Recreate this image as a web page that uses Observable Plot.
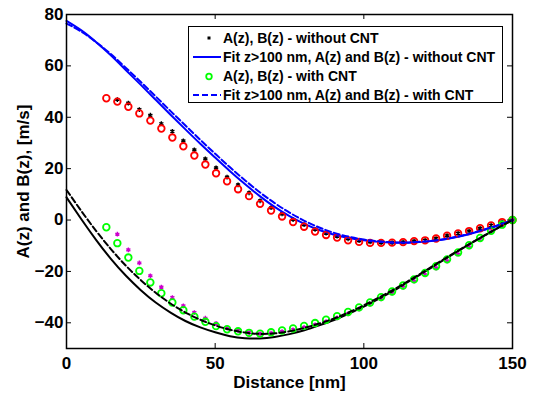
<!DOCTYPE html>
<html><head><meta charset="utf-8">
<script src="https://cdn.jsdelivr.net/npm/d3@7"></script>
<script src="https://cdn.jsdelivr.net/npm/@observablehq/plot@0.6"></script>
<style>body{margin:0;background:#fff} #chart{width:542px;height:395px}</style>
</head><body><div id="chart"></div>
<script>
// Measured positions (nm)
const zPts = [13.4,17.1,20.8,24.5,28.2,31.9,35.6,39.3,43.0,46.7,50.3,54.0,57.7,61.4,65.1,68.8,72.5,76.2,79.9,83.6,87.3,91.0,94.7,98.4,102.1,105.8,109.5,113.2,116.9,120.6,124.3,128.0,131.7,135.4,139.1,142.8,146.5,150];
// A(z) upper branch
const aNoCnt = [null,46.9,45.5,43.0,40.8,37.5,34.5,30.8,27.3,23.8,20.3,16.7,13.7,10.6,7.5,4.8,2.4,0.2,-1.8,-3.6,-5.1,-6.3,-7.3,-8.0,-8.5,-8.8,-8.8,-8.6,-8.2,-7.9,-7.2,-6.1,-5.2,-4.3,-3.2,-2.1,-0.8,0];
const aWithCnt = [47.4,46.1,44.1,41.5,38.7,35.6,32.1,28.7,25.1,21.6,18.2,15.1,12.0,9.3,6.3,3.7,1.4,-0.8,-2.6,-4.5,-5.8,-6.8,-7.9,-8.5,-8.9,-8.9,-8.8,-8.6,-8.2,-7.9,-7.2,-6.1,-5.2,-4.3,-3.2,-2.1,-0.8,0];
// B(z) lower branch
const bNoCnt = [null,-5.5,-11.6,-16.7,-21.7,-26.1,-30.2,-33.4,-36.0,-38.2,-40.2,-42.0,-43.0,-43.8,-44.3,-44.0,-43.4,-42.7,-41.8,-40.8,-39.5,-38.1,-36.5,-34.7,-32.8,-30.7,-28.5,-26.2,-23.8,-21.3,-18.7,-16.0,-13.3,-10.5,-7.6,-4.7,-2.3,0];
const bWithCnt = [-2.8,-9.0,-14.6,-19.8,-24.3,-28.5,-32.1,-35.1,-37.6,-39.6,-41.3,-42.5,-43.3,-43.9,-44.2,-43.7,-43.0,-42.2,-41.2,-40.1,-38.8,-37.4,-35.8,-34.0,-32.1,-30.0,-27.8,-25.5,-23.1,-20.6,-18.0,-15.3,-12.6,-9.8,-7.0,-4.2,-1.8,0];

// Fit curves
const fitX = [0,5,10,15,20,25,30,35,40,45,50,55,60,65,70,75,80,85,90,95,100,105,110,115,120,125,130,135,140,145,150];
const fitANoCnt = [77.5,73.8,69.2,64.0,58.3,52.6,46.8,41.0,35.3,29.7,24.3,19.0,14.0,9.3,5.1,1.5,-1.5,-3.9,-5.7,-7.0,-7.9,-8.5,-8.8,-8.8,-8.5,-7.9,-6.9,-5.6,-4.0,-2.1,0];
const fitAWithCnt = [76.5,73.3,69.2,64.5,59.2,53.7,48.1,42.4,36.8,31.2,25.8,20.5,15.5,10.8,6.6,2.9,-0.3,-2.9,-5.0,-6.5,-7.6,-8.3,-8.7,-8.7,-8.4,-7.8,-6.8,-5.5,-3.9,-2.1,0];
const fitBNoCnt = [8.8,0.3,-7.8,-15.2,-21.7,-27.3,-32.1,-36.0,-39.3,-41.8,-43.7,-45.2,-46.0,-46.1,-45.5,-44.4,-42.9,-41.0,-38.9,-36.4,-33.7,-30.7,-27.5,-24.0,-20.5,-16.9,-13.3,-9.8,-6.4,-3.1,0];
const fitBWithCnt = [11.7,3.5,-4.3,-11.4,-17.8,-23.4,-28.3,-32.5,-36.0,-38.8,-41.0,-42.7,-43.8,-44.3,-44.1,-43.3,-42.0,-40.3,-38.3,-35.9,-33.2,-30.2,-27.1,-23.7,-20.2,-16.6,-13.1,-9.7,-6.4,-3.1,0];

const xTicks = [0,50,100,150];
const yTicks = [-40,-20,0,20,40,60,80];
const legendLabels = ["A(z), B(z) - without CNT","Fit z>100 nm, A(z) and B(z) - without CNT","A(z), B(z) - with CNT","Fit z>100 nm, A(z) and B(z) - with CNT"];

const pts = zPts.map((z,i)=>({z, aNo:aNoCnt[i], aWith:aWithCnt[i], bNo:bNoCnt[i], bWith:bWithCnt[i]}));
const fits = fitX.map((x,i)=>({x, aNo:fitANoCnt[i], aWith:fitAWithCnt[i], bNo:fitBNoCnt[i], bWith:fitBWithCnt[i]}));

const W = 542, H = 395, ML = 66, MR = 30, MT = 14, MB = 47;
const PW = W - ML - MR, PH = H - MT - MB, TICK = 5;
const FONT = "'Liberation Sans', Arial, sans-serif";
const chart = Plot.plot({
  width: W, height: H,
  marginLeft: ML, marginRight: MR, marginTop: MT, marginBottom: MB,
  style: {fontFamily: FONT, fontSize: "17px", fontWeight: "bold", color: "black", background: "white", overflow: "visible"},
  x: {domain: [0,150]},
  y: {domain: [-50,80]},
  marks: [
    Plot.dot(pts, {x:"z", y:"aNo", symbol:"asterisk", r:2.2, stroke:"black", strokeWidth:1.4}),
    Plot.dot(pts, {x:"z", y:"bNo", symbol:"asterisk", r:2.2, stroke:"#cc00cc", strokeWidth:1.4}),
    Plot.line(fits, {x:"x", y:"aNo", stroke:"#0000ff", strokeWidth:2, curve:"natural"}),
    Plot.line(fits, {x:"x", y:"bNo", stroke:"black", strokeWidth:2, curve:"natural"}),
    Plot.dot(pts, {x:"z", y:"aWith", r:3.3, stroke:"#ff0000", strokeWidth:1.8, fill:"none"}),
    Plot.dot(pts, {x:"z", y:"bWith", r:3.3, stroke:"#00ff00", strokeWidth:1.8, fill:"none"}),
    Plot.line(fits, {x:"x", y:"aWith", stroke:"#0000ff", strokeWidth:2, strokeDasharray:"6,3", curve:"natural"}),
    Plot.line(fits, {x:"x", y:"bWith", stroke:"black", strokeWidth:2, strokeDasharray:"6,3", curve:"natural"}),
    // inward tick marks on all four sides
    Plot.ruleX(xTicks, {stroke:"black", strokeWidth:1, insetTop: PH - TICK}),
    Plot.ruleX(xTicks, {stroke:"black", strokeWidth:1, insetBottom: PH - TICK}),
    Plot.ruleY(yTicks, {stroke:"black", strokeWidth:1, insetRight: PW - TICK}),
    Plot.ruleY(yTicks, {stroke:"black", strokeWidth:1, insetLeft: PW - TICK}),
    Plot.frame({stroke:"black", strokeWidth:1.5}),
    Plot.axisX({anchor:"bottom", ticks:xTicks, tickSize:0, tickPadding:8, label:"Distance [nm]", labelAnchor:"center", labelOffset:39, labelArrow:"none"}),
    Plot.axisY({anchor:"left", ticks:yTicks, tickSize:0, tickPadding:3, label:"A(z) and B(z), [m/s]", labelAnchor:"center", labelOffset:50, labelArrow:"none"})
  ]
});
document.getElementById("chart").append(chart);

// Legend box (top right, inside the axes)
const svg = d3.select(chart);
const lg = svg.append("g").attr("font-family", FONT).attr("font-size", 14).attr("font-weight", "bold").attr("text-anchor","start");
lg.append("rect").attr("x",188.5).attr("y",26.5).attr("width",314).attr("height",76).attr("fill","white").attr("stroke","black").attr("stroke-width",1);
const rowY = [38, 57, 76.5, 95];
legendLabels.forEach((t,i)=>{
  const y = rowY[i];
  if (i===0) lg.append("rect").attr("x",207.5).attr("y",y-1.5).attr("width",3).attr("height",3).attr("fill","black");
  if (i===1) lg.append("line").attr("x1",193).attr("x2",221).attr("y1",y).attr("y2",y).attr("stroke","#0000ff").attr("stroke-width",2);
  if (i===2) lg.append("circle").attr("cx",209).attr("cy",y).attr("r",2.8).attr("fill","none").attr("stroke","#00ff00").attr("stroke-width",1.8);
  if (i===3) lg.append("line").attr("x1",193).attr("x2",221).attr("y1",y).attr("y2",y).attr("stroke","#0000ff").attr("stroke-width",2).attr("stroke-dasharray","6,3");
  lg.append("text").attr("x",223).attr("y",y).attr("dy","0.35em").attr("fill","black").attr("text-anchor","start").text(t);
});
</script>
</body></html>
